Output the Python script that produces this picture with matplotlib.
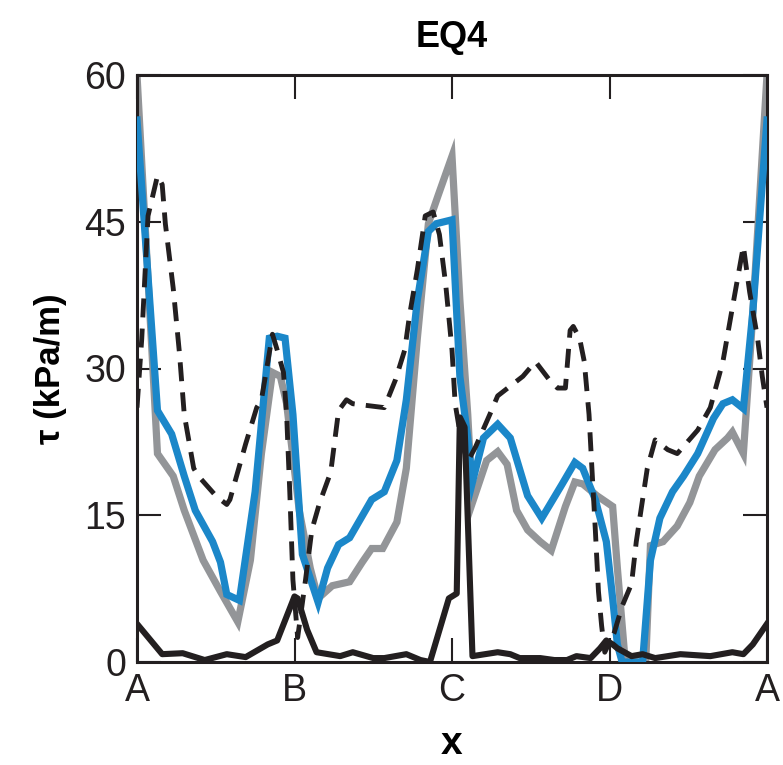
import matplotlib
matplotlib.use("Agg")
import matplotlib.pyplot as plt

plt.rcParams['font.family'] = ['Liberation Sans', 'DejaVu Sans']

# positions along the path A-B-C-D-A (0..4)
tick_pos = [0, 1, 2, 3, 4]
tick_labels = ['A', 'B', 'C', 'D', 'A']
y_ticks = [0, 15, 30, 45, 60]

gray_x = [0.00, 0.13, 0.23, 0.30, 0.42, 0.53, 0.64, 0.72, 0.79, 0.86, 0.91, 0.95,
          1.03, 1.10, 1.15, 1.24, 1.35, 1.43, 1.49, 1.56, 1.65, 1.71, 1.78, 1.85,
          1.91, 2.00, 2.05, 2.10, 2.13, 2.22, 2.29, 2.35, 2.41, 2.48, 2.56, 2.63,
          2.72, 2.78, 2.83, 2.92, 3.02, 3.05, 3.10, 3.23, 3.26, 3.34, 3.43, 3.51,
          3.57, 3.67, 3.75, 3.78, 3.85, 3.90, 4.00]
gray_y = [60.0, 21.3, 19.0, 15.5, 10.4, 7.2, 4.1, 10.4, 21.3, 29.6, 29.2, 26.4,
          15.5, 9.6, 6.5, 7.8, 8.2, 10.2, 11.6, 11.6, 14.3, 19.8, 33.1, 44.8,
          47.6, 51.7, 37.0, 25.3, 16.3, 20.6, 21.5, 20.2, 15.5, 13.5, 12.3, 11.4,
          15.9, 18.4, 18.2, 17.0, 15.9, 9.6, 0.0, 0.0, 11.9, 12.3, 13.9, 16.3,
          19.0, 21.7, 22.9, 23.5, 21.3, 33.1, 60.0]

blue_x = [0.00, 0.13, 0.22, 0.30, 0.37, 0.48, 0.53, 0.57, 0.65, 0.75, 0.84, 0.89,
          0.94, 0.99, 1.05, 1.15, 1.21, 1.28, 1.35, 1.49, 1.57, 1.65, 1.71, 1.78,
          1.85, 1.90, 2.00, 2.05, 2.10, 2.13, 2.20, 2.29, 2.37, 2.48, 2.57, 2.70,
          2.78, 2.83, 2.91, 2.98, 3.02, 3.05, 3.08, 3.21, 3.26, 3.32, 3.40, 3.47,
          3.56, 3.66, 3.72, 3.78, 3.85, 3.91, 4.00]
blue_y = [55.4, 25.7, 23.3, 19.0, 15.5, 12.3, 10.2, 6.9, 6.3, 17.4, 33.1, 33.3,
          33.1, 25.3, 11.0, 6.1, 9.6, 12.0, 12.7, 16.6, 17.4, 20.6, 26.8, 37.0,
          44.0, 44.8, 45.2, 29.2, 22.9, 18.4, 22.9, 24.3, 22.9, 17.0, 14.7, 18.2,
          20.4, 19.8, 16.6, 12.3, 6.5, 1.8, 0.0, 0.0, 10.4, 14.7, 17.4, 19.0,
          21.3, 24.9, 26.4, 26.8, 25.9, 35.8, 55.4]

dash_x = [0.00, 0.03, 0.05, 0.07, 0.13, 0.16, 0.18, 0.23, 0.27, 0.30, 0.36, 0.39,
          0.50, 0.53, 0.57, 0.59, 0.69, 0.76, 0.79, 0.86, 0.89, 0.93, 0.95, 0.97,
          0.99, 1.02, 1.07, 1.11, 1.16, 1.23, 1.28, 1.33, 1.37, 1.57, 1.64, 1.70,
          1.73, 1.78, 1.83, 1.88, 1.92, 1.96, 2.00, 2.02, 2.06, 2.10, 2.15, 2.24,
          2.29, 2.37, 2.45, 2.53, 2.62, 2.67, 2.72, 2.75, 2.77, 2.81, 2.84, 2.87,
          2.89, 2.91, 2.93, 2.95, 2.97, 3.03, 3.08, 3.14, 3.17, 3.24, 3.29, 3.37,
          3.43, 3.56, 3.64, 3.72, 3.78, 3.85, 3.89, 3.94, 3.97, 4.00]
dash_y = [26.0, 33.0, 39.4, 45.6, 49.7, 48.8, 44.8, 38.2, 31.5, 25.3, 19.8, 19.0,
          17.0, 16.6, 16.1, 16.6, 22.3, 26.0, 26.8, 33.5, 31.9, 29.6, 25.3, 17.4,
          8.4, 2.5, 8.4, 13.5, 16.3, 19.4, 25.7, 26.8, 26.4, 26.0, 28.8, 31.9,
          35.4, 40.1, 45.6, 46.0, 43.7, 38.6, 31.9, 26.4, 22.5, 20.5, 22.0, 25.3,
          27.2, 28.2, 29.2, 30.7, 28.8, 28.0, 28.0, 33.9, 34.3, 33.1, 30.7, 25.3,
          19.3, 13.5, 7.2, 3.7, 1.0, 3.0, 5.7, 8.0, 12.3, 19.8, 22.7, 21.7,
          21.3, 23.7, 26.0, 30.7, 36.2, 42.5, 37.8, 33.1, 29.2, 26.0]

black_x = [0.00, 0.16, 0.29, 0.43, 0.57, 0.69, 0.83, 0.89, 1.00, 1.02, 1.08, 1.14,
           1.29, 1.37, 1.50, 1.57, 1.71, 1.80, 1.86, 1.98, 2.03, 2.05, 2.08, 2.13,
           2.29, 2.37, 2.43, 2.56, 2.65, 2.73, 2.79, 2.88, 2.94, 2.98, 3.02, 3.05,
           3.14, 3.21, 3.29, 3.45, 3.64, 3.78, 3.85, 3.91, 4.00]
black_y = [3.9, 0.8, 0.9, 0.2, 0.8, 0.5, 1.8, 2.2, 6.7, 6.5, 3.3, 1.0,
           0.6, 1.0, 0.4, 0.4, 0.8, 0.2, 0.0, 6.5, 7.0, 25.0, 24.0, 0.6,
           1.0, 0.8, 0.4, 0.4, 0.2, 0.2, 0.6, 0.4, 1.4, 2.2, 1.8, 1.4,
           0.6, 0.8, 0.4, 0.8, 0.6, 1.0, 0.8, 1.8, 3.9]

fig = plt.figure(figsize=(7.83, 7.65), dpi=100)
ax = fig.add_axes([137 / 783, 1 - 662 / 765, 630 / 783, 587 / 765])

ax.plot(gray_x, gray_y, color='#939598', lw=5.2, solid_joinstyle='miter', zorder=2)
ax.plot(blue_x, blue_y, color='#1b87c9', lw=5.2, solid_joinstyle='miter', zorder=3)
ax.plot(dash_x, dash_y, color='#231f20', lw=3.5, dashes=(3.9, 2.3), zorder=4)
ax.plot(black_x, black_y, color='#231f20', lw=4.4, zorder=5)

ax.set_xlim(0, 4)
ax.set_ylim(0, 60)
ax.set_xticks(tick_pos)
ax.set_xticklabels(tick_labels)
ax.set_yticks(y_ticks)

ax.tick_params(direction='in', length=17, width=1.5, labelsize=27,
               top=True, right=True, pad=8, colors='#231f20')
for s in ax.spines.values():
    s.set_linewidth(2.2)
    s.set_color('#231f20')

ax.set_title('EQ4', fontsize=26, fontweight='bold', pad=20)
ax.set_xlabel('x', fontsize=28, fontweight='bold', labelpad=12)
ax.set_ylabel('τ (kPa/m)', fontsize=25, fontweight='bold', labelpad=12)

plt.savefig('out.png', dpi=100)
